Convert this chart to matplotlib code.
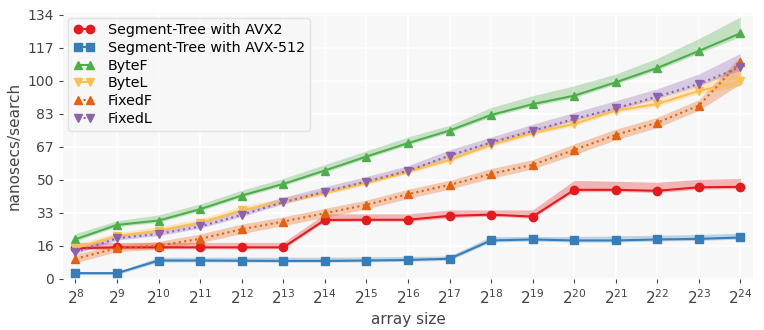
import numpy as np
import matplotlib
matplotlib.use("Agg")
import matplotlib.pyplot as plt

# log2 of array size
exps = list(range(8, 25))

avx2 = [15.5, 16, 16, 16, 16, 16, 29.9, 30, 30, 32, 32.6, 31.6, 45.2, 45.2, 44.7, 46.5, 46.7]
avx2_lo = [14.8, 15.2, 15.2, 15.2, 15.2, 15.2, 29.0, 29.2, 29.2, 31.0, 31.8, 30.8, 44.2, 44.3, 43.8, 45.5, 45.8]
avx2_hi = [18.5, 18.5, 18.5, 18.5, 18.5, 18.5, 33.0, 33.0, 33.0, 35.0, 35.0, 35.0, 50.0, 49.5, 49.0, 50.5, 51.0]

avx512 = [2.9, 2.9, 9.3, 9.3, 9.2, 9.1, 9.1, 9.3, 9.6, 10.2, 19.5, 20.0, 19.5, 19.5, 20.0, 20.3, 21.0]
avx512_lo = [2.2, 2.2, 8.5, 8.6, 8.5, 8.4, 8.4, 8.6, 8.9, 9.4, 18.7, 19.2, 18.7, 18.7, 19.2, 19.5, 20.2]
avx512_hi = [3.6, 3.6, 11.0, 11.0, 11.0, 11.0, 11.0, 11.2, 11.4, 11.6, 21.5, 21.5, 21.5, 21.8, 22.2, 22.5, 23.2]

bytef = [20.1, 27.4, 29.6, 35.4, 42.3, 48.2, 55.0, 62.1, 68.9, 75.3, 83.2, 88.7, 93.0, 99.8, 107.1, 115.7, 124.7]
bytef_lo = [19.2, 26.5, 28.7, 34.5, 41.4, 47.3, 54.1, 61.2, 68.0, 74.4, 82.2, 87.7, 92.0, 98.8, 106.0, 114.5, 123.0]
bytef_hi = [23.0, 29.5, 32.5, 38.0, 45.0, 51.0, 58.0, 65.0, 72.0, 78.0, 87.0, 93.0, 98.0, 104.0, 112.0, 122.0, 133.0]

bytel = [15.6, 21.8, 24.5, 28.6, 34.8, 39.2, 43.5, 48.6, 54.3, 60.4, 68.0, 74.0, 78.7, 85.4, 88.8, 95.4, 100.2]
bytel_lo = [14.8, 21.0, 23.6, 27.7, 33.9, 38.3, 42.6, 47.7, 53.4, 59.5, 67.0, 73.0, 77.7, 84.4, 87.6, 94.0, 98.0]
bytel_hi = [17.5, 23.5, 26.5, 30.5, 37.0, 41.0, 45.5, 50.5, 56.5, 62.5, 70.5, 76.5, 81.0, 87.5, 92.0, 98.5, 109.0]

fixedf = [10.2, 15.6, 16.9, 20.3, 25.2, 29.1, 33.3, 37.6, 43.0, 47.7, 53.3, 57.9, 65.5, 73.1, 79.3, 88.0, 110.3]
fixedf_lo = [8.2, 13.8, 15.0, 18.3, 23.0, 27.0, 31.2, 35.5, 40.8, 45.5, 51.0, 55.8, 63.0, 70.5, 76.8, 85.5, 99.0]
fixedf_hi = [12.5, 17.5, 19.0, 22.8, 27.8, 31.5, 35.8, 40.0, 45.5, 50.0, 56.0, 60.5, 68.5, 76.0, 82.0, 91.0, 113.0]

fixedl = [13.5, 20.6, 22.8, 26.6, 32.5, 38.9, 44.2, 49.4, 54.8, 62.6, 69.2, 75.1, 81.2, 86.6, 92.5, 99.0, 107.5]
fixedl_lo = [12.6, 19.7, 21.9, 25.7, 31.6, 38.0, 43.3, 48.5, 53.9, 61.7, 68.3, 74.2, 80.3, 85.7, 91.6, 98.0, 106.0]
fixedl_hi = [15.5, 22.5, 24.8, 28.8, 35.0, 41.5, 46.8, 52.0, 57.5, 65.5, 72.0, 78.5, 84.5, 90.5, 96.5, 104.0, 114.5]

series = [
    ("Segment-Tree with AVX2", avx2, avx2_lo, avx2_hi, "#e41a1c", "o", "-"),
    ("Segment-Tree with AVX-512", avx512, avx512_lo, avx512_hi, "#377eb8", "s", "-"),
    ("ByteF", bytef, bytef_lo, bytef_hi, "#4daf4a", "^", "-"),
    ("ByteL", bytel, bytel_lo, bytel_hi, "#fdbf4f", "v", "-"),
    ("FixedF", fixedf, fixedf_lo, fixedf_hi, "#e6600d", "^", ":"),
    ("FixedL", fixedl, fixedl_lo, fixedl_hi, "#8c62b0", "v", ":"),
]

fig = plt.figure(figsize=(7.64, 3.3), dpi=100)
ax = fig.add_axes([0.0825, 0.155, 0.903, 0.807])
ax.set_facecolor("#f7f7f7")
for s in ax.spines.values():
    s.set_visible(False)
ax.grid(True, color="white", linewidth=1.2)
ax.set_axisbelow(True)

for name, y, lo, hi, col, mk, ls in series:
    ax.fill_between(exps, lo, hi, color=col, alpha=0.3, linewidth=0)
    ax.plot(exps, y, color=col, marker=mk, linestyle=ls, linewidth=1.5,
            markersize=6, label=name)

yt = np.linspace(0, 134, 9)
ax.set_yticks(yt)
ax.set_yticklabels([str(int(v)) for v in yt])
ax.set_xticks(exps)
ax.set_xticklabels(["$2^{%d}$" % e for e in exps])
ax.set_xlim(7.7, 24.3)
ax.set_ylim(0, 135.2)
ax.tick_params(axis="both", colors="#444444", labelsize=10, length=3, width=0.8)
ax.tick_params(axis="x", labelsize=11)
ax.set_xlabel("array size", fontsize=11, color="#444444")
ax.set_ylabel("nanosecs/search", fontsize=11, color="#444444")

leg = ax.legend(loc="upper left", fontsize=10.3, frameon=True, facecolor="#f7f7f7",
                edgecolor="#dddddd", borderaxespad=0.37, borderpad=0.35,
                handlelength=1.45, labelspacing=0.27, numpoints=2,
                handletextpad=0.95)

fig.savefig("out.png", dpi=100)
